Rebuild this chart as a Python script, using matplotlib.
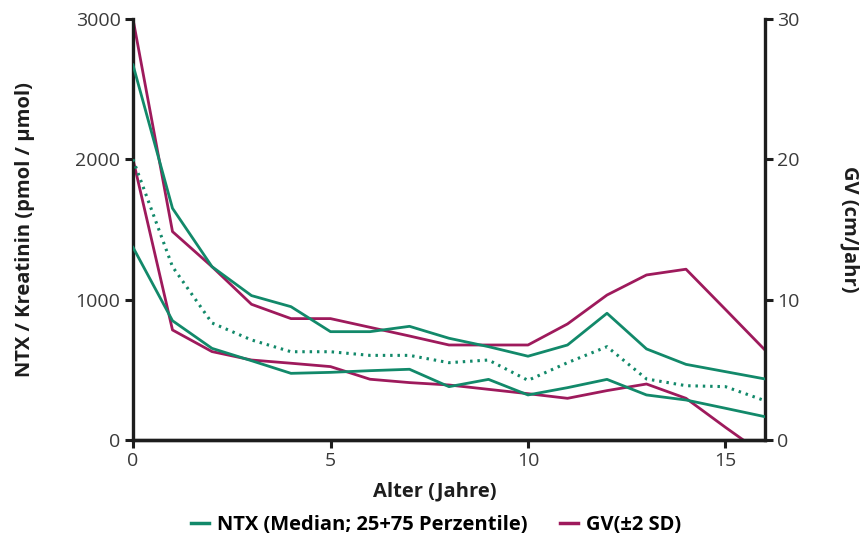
import matplotlib
matplotlib.use("Agg")
import matplotlib.pyplot as plt
from matplotlib.lines import Line2D

plt.rcParams['font.family'] = ['Open Sans', 'DejaVu Sans']

ages = list(range(0, 17))
ntx_p75 = [2673, 1651, 1235, 1029, 950, 772, 772, 810, 725, 665, 597, 677, 903, 649, 539, 487, 435]
ntx_median = [2000, 1235, 834, 713, 629, 629, 603, 603, 551, 570, 425, 551, 665, 435, 387, 380, 280]
ntx_p25 = [1373, 850, 653, 565, 475, 482, 494, 504, 380, 432, 321, 373, 432, 321, 285, 226, 166]
gv_upper = [30.0, 14.85, 12.35, 9.67, 8.65, 8.65, 8.03, 7.41, 6.77, 6.77, 6.77, 8.27, 10.33, 11.76, 12.17, 9.3, 6.41]
gv_lower = [20.0, 7.84, 6.3, 5.7, 5.47, 5.23, 4.33, 4.09, 3.92, 3.61, 3.3, 2.97, 3.52, 3.99, 2.97, 0.9, -1.1]

green = '#12896A'
magenta = '#9E1A5C'
dark = '#1d1d1d'
tickc = '#3a3a3a'

W, H = 868, 535
fig = plt.figure(figsize=(W/100, H/100), dpi=100)
x0, x1, y0, y1 = 133, 765, 19, 440
ax = fig.add_axes([x0/W, 1-y1/H, (x1-x0)/W, (y1-y0)/H])
ax2 = ax.twinx()

lw = 2.0
ax.plot(ages, ntx_p75, color=green, lw=lw, zorder=3)
ax.plot(ages, ntx_p25, color=green, lw=lw, zorder=3)
ax.plot(ages, ntx_median, color=green, lw=2.2, linestyle=(0, (0.8, 1.6)), zorder=3)
ax2.plot(ages, gv_upper, color=magenta, lw=lw, zorder=2)
ax2.plot(ages, gv_lower, color=magenta, lw=lw, zorder=2)

ax.set_xlim(0, 16)
ax.set_ylim(0, 3000)
ax2.set_ylim(0, 30)
ax.set_xticks([0, 5, 10, 15])
ax.set_yticks([0, 1000, 2000, 3000])
ax2.set_yticks([0, 10, 20, 30])

for a in (ax, ax2):
    a.spines['top'].set_visible(False)
    for s in ('left', 'right', 'bottom'):
        a.spines[s].set_linewidth(2.4)
        a.spines[s].set_color(dark)
    a.tick_params(width=2.2, length=6, color=dark, labelcolor=tickc, labelsize=14, pad=3)
ax2.spines['left'].set_visible(False)
ax.spines['right'].set_visible(False)
ax.set_zorder(ax2.get_zorder() + 1)
ax.patch.set_visible(False)

lab_fs = 14.5
ax.set_xlabel('Alter (Jahre)', fontsize=lab_fs, fontweight='bold', color=dark)
ax.set_ylabel('NTX / Kreatinin (pmol / µmol)', fontsize=lab_fs, fontweight='bold', color=dark)
ax2.set_ylabel('GV (cm/Jahr)', fontsize=lab_fs, fontweight='bold', color=dark, rotation=-90)
ax.xaxis.label.set_va('center')
ax.yaxis.label.set_va('center')
ax2.yaxis.label.set_va('center')
ax.xaxis.set_label_coords((435 - x0)/(x1 - x0), (y1 - 491)/(y1 - y0))
ax.yaxis.set_label_coords((25 - x0)/(x1 - x0), 0.5)
ax2.yaxis.set_label_coords((850 - x0)/(x1 - x0), (y1 - 229)/(y1 - y0))

handles = [Line2D([], [], color=green, lw=2.5), Line2D([], [], color=magenta, lw=2.5)]
fig.legend(handles, ['NTX (Median; 25+75 Perzentile)', 'GV(±2 SD)'], loc='center',
           bbox_to_anchor=(436/W, 1-525/H), ncol=2, frameon=False,
           handlelength=0.9, handletextpad=0.4, columnspacing=1.6,
           prop={'weight': 'bold', 'size': lab_fs})

fig.savefig('out.png', dpi=100)
